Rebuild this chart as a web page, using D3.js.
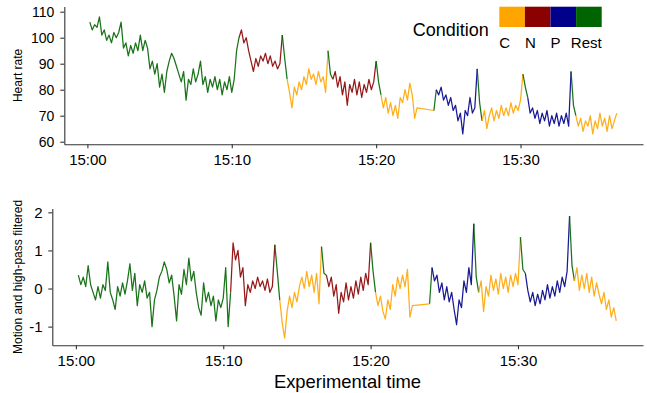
<!DOCTYPE html>
<html>
<head>
<meta charset="utf-8">
<script src="https://cdn.jsdelivr.net/npm/d3@7"></script>
<style>
  body { margin: 0; background: #fff; }
  svg text { font-family: "Liberation Sans", Arial, Helvetica, sans-serif; fill: #000; }
</style>
</head>
<body>
<svg id="chart" width="647" height="393"></svg>
<script>
// samples every 10 s from 15:00:10; null = no recording (gap around 15:23)
const sampleStart = '15:00:10';
const sampleStepSec = 10;

const hrValues = [
  106, 103, 105, 104, 108, 101, 103, 99, 101, 98,
  102, 100, 102, 106, 96, 98, 93, 97, 94, 98,
  95, 101, 95, 99, 96, 88, 91, 86, 90, 81,
  86, 79, 87, 91, 94, 92, 89, 86, 83, 87,
  76, 84, 82, 88, 83, 86, 91, 82, 85, 79,
  84, 81, 85, 80, 84, 78, 83, 80, 85, 79,
  84, 95,
  100, 103, 98, 100, 95, 91, 87, 92,
  89, 93, 91, 94, 90, 93, 89, 91, 88, 90,
  101, 92,
  84, 79, 73, 81, 78, 83, 80, 85,
  82, 88, 84, 86, 82, 87, 83, 85, 79,
  95, 86,
  84, 87, 81, 85, 78, 83, 74, 82, 79,
  84, 78, 83, 77, 82, 79, 84, 80, 83,
  91, 83,
  78, 73, 77, 71, 75, 70, 74, 69, 77,
  75, 80, 76, 82.5, 78, 69, 73,
  null, null, null, null, null, null,
  72,
  80, 78, 81, 76, 78, 74, 77,
  72, 74, 68, 71, 63, 72, 70, 77, 71, 73,
  88, 75,
  68, 72, 65, 70, 73, 68, 72, 69, 74, 70,
  73, 70, 75, 71, 74, 72, 76,
  86, 81,
  77, 71, 73, 69, 72, 67, 71, 68, 72, 66,
  70, 67, 71, 66, 70, 67, 71, 66,
  87, 74,
  70, 66, 69, 64, 68, 66, 70, 63, 68, 65,
  71, 66, 69, 64, 70, 65, 68, 71
];

const motionValues = [
  0.35, 0.1, 0.3, 0.05, 0.6, 0.1, -0.1, -0.3, 0.05, -0.25,
  0.1, -0.05, 0.7, -0.1, -0.3, -0.55, 0.05, -0.2, 0.15, -0.15,
  0.2, 0.65, -0.05, 0.4, -0.45, 0.1, -0.1, 0.2, -0.25, -0.1,
  -1.0, -0.3, -0.05, 0.3, 0.45, 0.7, 0.5, 0.15, 0.35, -0.2,
  -0.85, 0.1, -0.15, 0.5, 0.1, 0.8, 0.2, 0.45, -0.1, -0.5,
  -0.7, 0.15, -0.35, -0.1, -0.45, -0.2, -0.85, -0.3, -0.5, -0.25,
  0.55, -1.0,
  -0.1, 1.2, 0.75, 1.0, 0.3, 0.55, -0.45, 0.1,
  -0.1, 0.2, 0.0, 0.3, 0.05, 0.2, -0.05, 0.25, -0.1, 0.05,
  1.15, 0.45,
  -0.3, -0.9, -1.3, -0.6, -0.2, -0.5, -0.1, -0.35,
  0.05, 0.3, 0.0, 0.45, 0.05, 0.35, -0.1, 0.4, -0.4,
  1.1, 0.4,
  0.35, 0.05, 0.3, -0.2, 0.1, -0.65, -0.1, -0.35, 0.15,
  -0.3, 0.05, -0.25, 0.2, -0.15, 0.3, -0.05, 0.4, 0.1,
  1.2, 0.45,
  -0.1, -0.45, -0.2, -0.6, -0.8, -0.3, -0.55, 0.1, -0.2,
  0.3, 0.0, 0.35, 0.05, 0.5, -0.75, -0.45,
  null, null, null, null, null, null,
  -0.4,
  0.55, 0.2, 0.35, -0.1, 0.15, -0.3, 0.05,
  -0.35, -0.1, -0.55, -0.95, -0.3, -0.5, 0.2, -0.1, 0.55, 0.1,
  1.7, 0.3,
  -0.1, 0.2, -0.6, 0.05, -0.2, 0.35, -0.05, 0.25, -0.15, 0.4,
  0.0, 0.3, -0.1, 0.35, 0.05, 0.4, 0.1,
  1.35, 0.5,
  0.4, -0.05, -0.35, -0.1, -0.45, -0.15, -0.4, -0.05, -0.3, 0.1,
  -0.25, 0.05, -0.2, 0.2, -0.1, 0.3, 0.05, 0.45,
  1.9, 0.6,
  0.2, 0.55, -0.05, 0.35, 0.0, 0.4, -0.1, 0.3, -0.2, 0.15,
  -0.15, -0.4, -0.1, -0.55, -0.3, -0.75, -0.5, -0.85
];

const condStarts = ['15:00:10', '15:10:30', '15:13:30', '15:13:50', '15:16:40', '15:17:00',
  '15:20:00', '15:20:20', '15:24:00', '15:24:10', '15:27:00', '15:27:20',
  '15:30:10', '15:30:30', '15:33:30', '15:33:50'];
const condLabels = ['Rest', 'N', 'Rest', 'C', 'Rest', 'N',
  'Rest', 'C', 'Rest', 'P', 'Rest', 'C',
  'Rest', 'P', 'Rest', 'C'];

const legendKeys = ['C', 'N', 'P', 'Rest'];
const legendColors = ['#FFA500', '#8B0000', '#00008B', '#006400'];

const timeDomain = ['14:58:24', '15:38:29'];
const timeTicks = ['15:00', '15:10', '15:20', '15:30'];
const hrTicks = [60, 70, 80, 90, 100, 110];
const motionTicks = [-1, 0, 1, 2];

const parseSec = d3.timeParse('%H:%M:%S');
const parseMin = d3.timeParse('%H:%M');
const svg = d3.select('#chart');
const color = d3.scaleOrdinal().domain(legendKeys).range(legendColors);

const condTimes = condStarts.map(parseSec);
function conditionAt(t) {
  const k = d3.bisectRight(condTimes, t) - 1;
  return condLabels[Math.max(0, k)];
}

function buildPoints(values) {
  const t0 = parseSec(sampleStart).getTime();
  return values
    .map((v, i) => {
      const t = new Date(t0 + i * sampleStepSec * 1000);
      return { t: t, v: v, c: conditionAt(t) };
    })
    .filter(d => d.v !== null);
}

// a segment takes the colour of its first point (like geom_line)
function colourRuns(points) {
  const runs = [];
  let cur = null;
  points.forEach(p => {
    if (!cur || cur.c !== p.c) {
      if (cur) { cur.pts.push(p); }
      cur = { c: p.c, pts: [p] };
      runs.push(cur);
    } else {
      cur.pts.push(p);
    }
  });
  return runs;
}

function drawPanel(opt) {
  const x = d3.scaleTime().domain(timeDomain.map(parseSec)).range(opt.xRange);
  const y = d3.scaleLinear().domain(opt.yDomain).range(opt.yRange);
  const g = svg.append('g');

  const line = d3.line().x(d => x(d.t)).y(d => y(d.v));
  g.selectAll('path.series')
    .data(colourRuns(buildPoints(opt.values)))
    .enter().append('path')
      .attr('class', 'series')
      .attr('d', d => line(d.pts))
      .attr('fill', 'none')
      .attr('stroke', d => color(d.c))
      .attr('stroke-width', 1.25)
      .attr('stroke-opacity', 0.9)
      .attr('stroke-linejoin', 'round');

  const xAxis = g.append('g')
    .attr('transform', `translate(0, ${opt.yRange[0]})`)
    .call(d3.axisBottom(x)
      .tickValues(timeTicks.map(parseMin))
      .tickFormat(d3.timeFormat('%H:%M'))
      .tickSize(4).tickSizeOuter(0).tickPadding(6.5));

  const yAxis = g.append('g')
    .attr('transform', `translate(${opt.xRange[0]}, 0)`)
    .call(d3.axisLeft(y)
      .tickValues(opt.ticks)
      .tickFormat(d => String(d))
      .tickSize(4).tickSizeOuter(0).tickPadding(opt.yPad));

  [xAxis, yAxis].forEach(a => {
    a.selectAll('path, line').attr('stroke', '#333').attr('stroke-width', 1.1);
    a.selectAll('text').style('font-size', '15px').attr('fill', '#000');
  });
  yAxis.selectAll('text').style('font-size', opt.yFont + 'px');

  g.append('text')
    .attr('transform', `translate(21.8, ${(opt.yRange[0] + opt.yRange[1]) / 2}) rotate(-90)`)
    .attr('text-anchor', 'middle')
    .style('font-size', '12px')
    .text(opt.label);
}

drawPanel({
  values: hrValues, yDomain: [59, 112], yRange: [144.3, 6.5], xRange: [64.3, 643],
  ticks: hrTicks, yFont: 14, yPad: 6, label: 'Heart rate'
});
drawPanel({
  values: motionValues, yDomain: [-1.49, 2.1], yRange: [345.3, 208.5], xRange: [52.3, 643],
  ticks: motionTicks, yFont: 15, yPad: 5.6, label: 'Motion and high-pass filtered'
});

svg.append('text')
  .attr('x', 347.5).attr('y', 387.5)
  .attr('text-anchor', 'middle')
  .style('font-size', '18.4px')
  .text('Experimental time');

// legend
const legend = svg.append('g');
const keyW = 25.6, keyX = 499.3, keyY = 6.7, keyH = 20.3;
const legendRight = keyX + keyW * legendKeys.length;

legend.append('text')
  .attr('x', 412.7).attr('y', 35.5)
  .style('font-size', '18px')
  .text('Condition');

legend.selectAll('rect')
  .data(legendKeys)
  .enter().append('rect')
    .attr('x', (d, i) => keyX + i * keyW)
    .attr('y', keyY)
    .attr('width', keyW)
    .attr('height', keyH)
    .attr('fill', d => color(d));

legend.selectAll('text.key')
  .data(legendKeys)
  .enter().append('text')
    .attr('class', 'key')
    .attr('y', 47.5)
    .style('font-size', '15px')
    .text(d => d)
    .attr('x', function(d, i) {
      const w = this.getComputedTextLength();
      return Math.min(keyX + i * keyW, legendRight - w);
    });
</script>
</body>
</html>
